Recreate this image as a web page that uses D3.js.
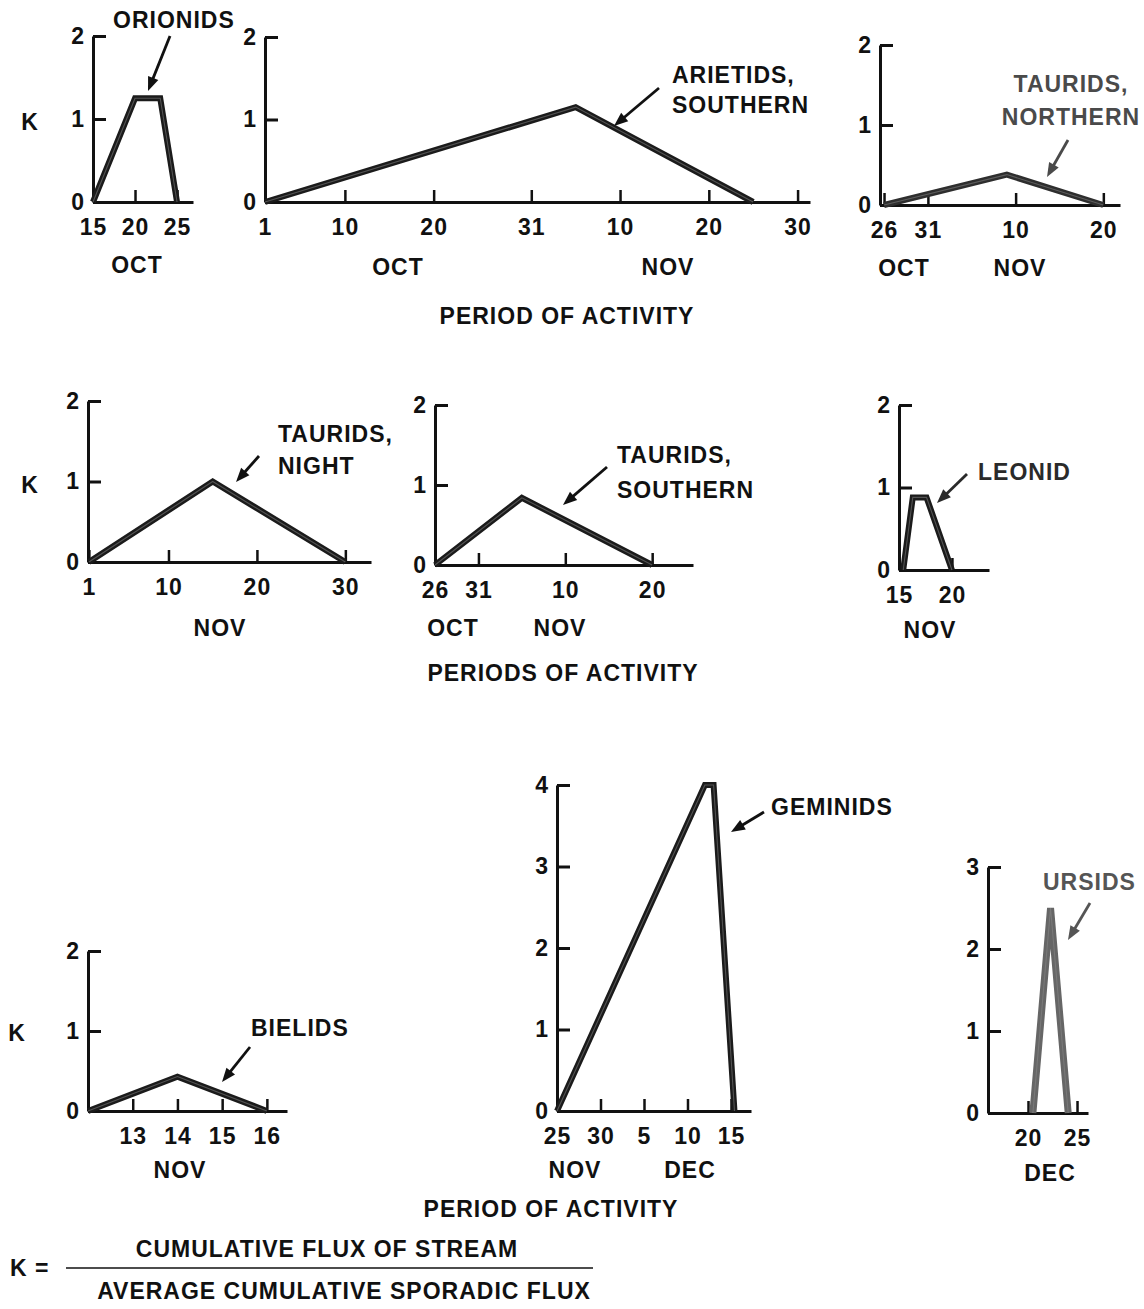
<!DOCTYPE html>
<html>
<head>
<meta charset="utf-8">
<script src="https://cdn.jsdelivr.net/npm/d3@7"></script>
<style>
  html, body { margin: 0; padding: 0; background: #fff; }
  svg { display: block; }
  text {
    font-family: "Liberation Sans", Arial, Helvetica, sans-serif;
    font-weight: bold;
    font-size: 23px;
    letter-spacing: 1px;
    fill: #111;
  }
</style>
</head>
<body>
<svg id="chart" width="1144" height="1309"></svg>
<script>
// ---- Stream activity data: dates as "MM-DD" (fractional days allowed), K values ----
const orionidsName = ["ORIONIDS"];
const orionidsDates = ["10-15", "10-20", "10-23", "10-25"];
const orionidsK = [0, 1.25, 1.25, 0];
const orionidsTicks = ["10-15", "10-20", "10-25"];
const orionidsTickLabels = ["15", "20", "25"];
const orionidsMonths = ["OCT"];

const arietidsName = ["ARIETIDS,", "SOUTHERN"];
const arietidsDates = ["10-01", "11-05", "11-25"];
const arietidsK = [0, 1.15, 0];
const arietidsTicks = ["10-01", "10-10", "10-20", "10-31", "11-10", "11-20", "11-30"];
const arietidsTickLabels = ["1", "10", "20", "31", "10", "20", "30"];
const arietidsMonths = ["OCT", "NOV"];

const tauridsNorthName = ["TAURIDS,", "NORTHERN"];
const tauridsNorthDates = ["10-26", "11-09", "11-20"];
const tauridsNorthK = [0, 0.38, 0];
const tauridsNorthTicks = ["10-26", "10-31", "11-10", "11-20"];
const tauridsNorthTickLabels = ["26", "31", "10", "20"];
const tauridsNorthMonths = ["OCT", "NOV"];

const tauridsNightName = ["TAURIDS,", "NIGHT"];
const tauridsNightDates = ["11-01", "11-15", "11-30"];
const tauridsNightK = [0, 1.0, 0];
const tauridsNightTicks = ["11-01", "11-10", "11-20", "11-30"];
const tauridsNightTickLabels = ["1", "10", "20", "30"];
const tauridsNightMonths = ["NOV"];

const tauridsSouthName = ["TAURIDS,", "SOUTHERN"];
const tauridsSouthDates = ["10-26", "11-05", "11-20"];
const tauridsSouthK = [0, 0.84, 0];
const tauridsSouthTicks = ["10-26", "10-31", "11-10", "11-20"];
const tauridsSouthTickLabels = ["26", "31", "10", "20"];
const tauridsSouthMonths = ["OCT", "NOV"];

const leonidName = ["LEONID"];
const leonidDates = ["11-15.4", "11-16.3", "11-17.6", "11-20"];
const leonidK = [0, 0.88, 0.88, 0];
const leonidTicks = ["11-15", "11-20"];
const leonidTickLabels = ["15", "20"];
const leonidMonths = ["NOV"];

const bielidsName = ["BIELIDS"];
const bielidsDates = ["11-12", "11-14", "11-16"];
const bielidsK = [0, 0.43, 0];
const bielidsTicks = ["11-13", "11-14", "11-15", "11-16"];
const bielidsTickLabels = ["13", "14", "15", "16"];
const bielidsMonths = ["NOV"];

const geminidsName = ["GEMINIDS"];
const geminidsDates = ["11-25", "12-12", "12-13", "12-15.4"];
const geminidsK = [0, 4, 4, 0];
const geminidsTicks = ["11-25", "11-30", "12-05", "12-10", "12-15"];
const geminidsTickLabels = ["25", "30", "5", "10", "15"];
const geminidsMonths = ["NOV", "DEC"];

const ursidsName = ["URSIDS"];
const ursidsDates = ["12-20.5", "12-22.3", "12-24.1"];
const ursidsK = [0, 2.5, 0];
const ursidsTicks = ["12-20", "12-25"];
const ursidsTickLabels = ["20", "25"];
const ursidsMonths = ["DEC"];

const periodLabels = ["PERIOD OF ACTIVITY", "PERIODS OF ACTIVITY", "PERIOD OF ACTIVITY"];
const kNumerator = "CUMULATIVE FLUX OF STREAM";
const kDenominator = "AVERAGE CUMULATIVE SPORADIC FLUX";

// ---- helpers ----
function toDate(s) {
  const [m, d] = s.split("-").map(Number);
  return new Date(Date.UTC(1970, m - 1, 1) + (d - 1) * 864e5);
}
const zip = (dates, ks) => dates.map((d, i) => ({ date: toDate(d), k: ks[i] }));

// ---- panel layout (pixel frames, label placement) ----
const panels = [
  { id: "orionids", name: orionidsName, data: zip(orionidsDates, orionidsK),
    ticks: orionidsTicks, tickLabels: orionidsTickLabels, months: orionidsMonths, yMax: 2,
    domain: ["10-15", "10-26.9"], xr: [93, 193], yr: [202, 36],
    monthX: [137], monthY: 273,
    nameX: 113, nameY: [28], nameAnchor: "start",
    arrow: [170, 36, 148, 91] },
  { id: "arietids", name: arietidsName, data: zip(arietidsDates, arietidsK),
    ticks: arietidsTicks, tickLabels: arietidsTickLabels, months: arietidsMonths, yMax: 2,
    domain: ["10-01", "12-01.4"], xr: [265, 810], yr: [202, 37],
    monthX: [398, 668], monthY: 275,
    nameX: 672, nameY: [83, 113], nameAnchor: "start",
    arrow: [659, 88, 614, 126] },
  { id: "tauridsNorth", name: tauridsNorthName, data: zip(tauridsNorthDates, tauridsNorthK),
    ticks: tauridsNorthTicks, tickLabels: tauridsNorthTickLabels, months: tauridsNorthMonths, yMax: 2,
    domain: ["10-25.54", "11-21.9"], xr: [880, 1120], yr: [205, 45],
    monthX: [904, 1020], monthY: 276,
    nameX: 1071, nameY: [92, 125], nameAnchor: "middle", ink: "#4a4a4a", lineInk: "#2e2e2e",
    arrow: [1068, 140, 1047, 177] },
  { id: "tauridsNight", name: tauridsNightName, data: zip(tauridsNightDates, tauridsNightK),
    ticks: tauridsNightTicks, tickLabels: tauridsNightTickLabels, months: tauridsNightMonths, yMax: 2,
    domain: ["11-00.9", "12-02.9"], xr: [88, 371], yr: [562, 401],
    monthX: [220], monthY: 636,
    nameX: 278, nameY: [442, 474], nameAnchor: "start",
    arrow: [259, 456, 236, 482] },
  { id: "tauridsSouth", name: tauridsSouthName, data: zip(tauridsSouthDates, tauridsSouthK),
    ticks: tauridsSouthTicks, tickLabels: tauridsSouthTickLabels, months: tauridsSouthMonths, yMax: 2,
    domain: ["10-26", "11-24.7"], xr: [435, 693], yr: [565, 405],
    monthX: [453, 560], monthY: 636,
    nameX: 617, nameY: [463, 498], nameAnchor: "start",
    arrow: [607, 467, 563, 505] },
  { id: "leonid", name: leonidName, data: zip(leonidDates, leonidK),
    ticks: leonidTicks, tickLabels: leonidTickLabels, months: leonidMonths, yMax: 2,
    domain: ["11-15", "11-23.5"], xr: [899, 989], yr: [570, 405],
    monthX: [930], monthY: 638,
    nameX: 978, nameY: [480], nameAnchor: "start", ink: "#2a2a2a",
    arrow: [967, 474, 937, 503] },
  { id: "bielids", name: bielidsName, data: zip(bielidsDates, bielidsK),
    ticks: bielidsTicks, tickLabels: bielidsTickLabels, months: bielidsMonths, yMax: 2,
    domain: ["11-12", "11-16.45"], xr: [88, 287], yr: [1111, 951],
    monthX: [180], monthY: 1178,
    nameX: 251, nameY: [1036], nameAnchor: "start",
    arrow: [250, 1047, 222, 1082] },
  { id: "geminids", name: geminidsName, data: zip(geminidsDates, geminidsK),
    ticks: geminidsTicks, tickLabels: geminidsTickLabels, months: geminidsMonths, yMax: 4,
    domain: ["11-25", "12-17.3"], xr: [557, 751], yr: [1111, 785],
    monthX: [575, 690], monthY: 1178,
    nameX: 771, nameY: [815], nameAnchor: "start",
    arrow: [764, 812, 731, 832] },
  { id: "ursids", name: ursidsName, data: zip(ursidsDates, ursidsK),
    ticks: ursidsTicks, tickLabels: ursidsTickLabels, months: ursidsMonths, yMax: 3,
    domain: ["12-15.92", "12-26.12"], xr: [988, 1088], yr: [1113, 867],
    monthX: [1050], monthY: 1181,
    nameX: 1043, nameY: [890], nameAnchor: "start", ink: "#555", lineInk: "#666", lineWidth: 7,
    arrow: [1090, 903, 1068, 940] }
];

const svg = d3.select("#chart");

function drawArrow(g, [x1, y1, x2, y2], color) {
  const dx = x2 - x1, dy = y2 - y1, len = Math.hypot(dx, dy);
  const ux = dx / len, uy = dy / len;
  const headL = 14, headW = 5.5;
  const bx = x2 - ux * headL, by = y2 - uy * headL;
  g.append("line")
    .attr("x1", x1).attr("y1", y1).attr("x2", bx + ux * 2).attr("y2", by + uy * 2)
    .attr("stroke", color).attr("stroke-width", 2.8);
  g.append("path")
    .attr("d", `M${x2},${y2}L${bx - uy * headW},${by + ux * headW}L${bx + uy * headW},${by - ux * headW}Z`)
    .attr("fill", color);
}

function drawPanel(p) {
  const g = svg.append("g").attr("class", "panel " + p.id);
  const x = d3.scaleUtc().domain(p.domain.map(toDate)).range(p.xr);
  const y = d3.scaleLinear().domain([0, p.yMax]).range(p.yr);
  const ink = p.ink || "#111";
  const lineInk = p.lineInk || "#1b1b1b";

  // x axis with short upward ticks
  const gx = g.append("g")
    .attr("transform", `translate(0,${p.yr[0]})`)
    .call(d3.axisBottom(x)
      .tickValues(p.ticks.map(toDate))
      .tickFormat((d, i) => p.tickLabels[i])
      .tickSizeInner(-12).tickSizeOuter(0).tickPadding(17));
  gx.select(".domain").attr("stroke", "#111").attr("stroke-width", 3);
  gx.selectAll(".tick line").attr("stroke", "#111").attr("stroke-width", 2.5);

  // y axis with ticks pointing into the plot
  const gy = g.append("g")
    .attr("transform", `translate(${p.xr[0]},0)`)
    .call(d3.axisLeft(y)
      .tickValues(d3.range(0, p.yMax + 1))
      .tickFormat(d3.format("d"))
      .tickSizeInner(-13).tickSizeOuter(0).tickPadding(8));
  gy.select(".domain").attr("stroke", "#111").attr("stroke-width", 3);
  gy.selectAll(".tick line").attr("stroke", "#111").attr("stroke-width", 3);

  // activity profile: heavy outlined stroke
  const line = d3.line().x(d => x(d.date)).y(d => y(d.k));
  g.append("path").datum(p.data)
    .attr("d", line).attr("fill", "none")
    .attr("stroke", lineInk).attr("stroke-width", p.lineWidth || 6)
    .attr("stroke-linejoin", "miter").attr("stroke-miterlimit", 6);
  g.append("path").datum(p.data)
    .attr("d", line).attr("fill", "none")
    .attr("stroke", "#8c8c8c").attr("stroke-opacity", 0.5).attr("stroke-width", 1.1)
    .attr("stroke-linejoin", "miter");

  // month names under the day numbers
  g.selectAll("text.month").data(p.months).join("text")
    .attr("class", "month")
    .attr("x", (d, i) => p.monthX[i]).attr("y", p.monthY)
    .attr("text-anchor", "middle").text(d => d);

  // stream name with pointer arrow
  g.selectAll("text.name").data(p.name).join("text")
    .attr("class", "name")
    .attr("x", p.nameX).attr("y", (d, i) => p.nameY[i])
    .attr("text-anchor", p.nameAnchor)
    .style("fill", ink).text(d => d);
  drawArrow(g, p.arrow, ink);
}

panels.forEach(drawPanel);

// K axis titles, one per row
const kTitles = [[30, 130], [30, 493], [17, 1041]];
svg.selectAll("text.ktitle").data(kTitles).join("text")
  .attr("class", "ktitle").attr("x", d => d[0]).attr("y", d => d[1])
  .attr("text-anchor", "middle").text("K");

// period captions under each row
const periodPos = [[567, 324], [563, 681], [551, 1217]];
svg.selectAll("text.period").data(periodLabels).join("text")
  .attr("class", "period")
  .attr("x", (d, i) => periodPos[i][0]).attr("y", (d, i) => periodPos[i][1])
  .attr("text-anchor", "middle").text(d => d);

// definition of K
const def = svg.append("g").attr("class", "definition");
def.append("text").attr("x", 10).attr("y", 1276).text("K =");
def.append("line").attr("x1", 66).attr("x2", 593).attr("y1", 1268).attr("y2", 1268)
  .attr("stroke", "#111").attr("stroke-width", 1.6);
def.append("text").attr("x", 327).attr("y", 1257).attr("text-anchor", "middle").text(kNumerator);
def.append("text").attr("x", 344).attr("y", 1299).attr("text-anchor", "middle").text(kDenominator);
</script>
</body>
</html>
